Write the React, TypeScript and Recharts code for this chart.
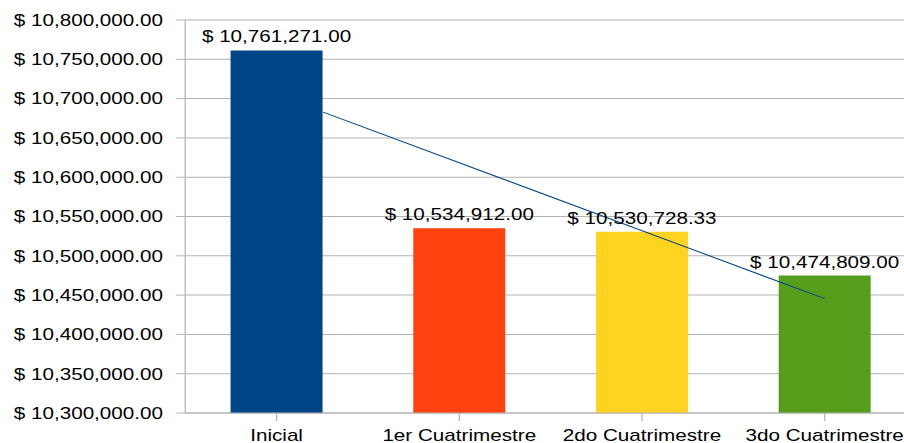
import React from 'react';
import {
  ComposedChart,
  Bar,
  Line,
  XAxis,
  YAxis,
  CartesianGrid,
  Cell,
  LabelList,
} from 'recharts';

const categories = ['Inicial', '1er Cuatrimestre', '2do Cuatrimestre', '3do Cuatrimestre'];
const montos = [10761271.0, 10534912.0, 10530728.33, 10474809.0];
const colores = ['#004586', '#ff420e', '#ffd320', '#579d1c'];
const yTicks = [
  10300000, 10350000, 10400000, 10450000, 10500000, 10550000, 10600000, 10650000, 10700000,
  10750000, 10800000,
];
// linea de tendencia
const trendX = [0.255, 3];
const trendY = [10682800, 10445500];

const data = categories.map((c, i) => ({ categoria: c, monto: montos[i] }));
const trendData = trendX.map((t, i) => ({ t, v: trendY[i] }));

const FONT = '"Liberation Sans", Arial, sans-serif';
const SX = 1.26; // el original esta estirado en horizontal

const money = (v: number) =>
  '$ ' + v.toLocaleString('en-US', { minimumFractionDigits: 2, maximumFractionDigits: 2 });

const BarLabel = (props: any) => {
  const { x, y, width, value } = props;
  return (
    <text
      x={Number(x) + Number(width) / 2}
      y={Number(y) - 8}
      textAnchor="middle"
      fontSize={16.4}
      fontFamily={FONT}
      fill="#000"
    >
      {money(Number(value))}
    </text>
  );
};

export default function App() {
  return (
    <div style={{ position: 'absolute', left: 0, top: 0, width: 904, height: 443, overflow: 'hidden', background: '#fff' }}>
      <div style={{ transform: `scaleX(${SX})`, transformOrigin: '0 0', width: 732 }}>
        <ComposedChart
          width={732}
          height={443}
          data={data}
          margin={{ top: 20, right: 5, left: 0, bottom: 0 }}
          style={{ fontFamily: FONT }}
        >
          <CartesianGrid vertical={false} stroke="#b3b3b3" />
          <XAxis
            dataKey="categoria"
            height={30}
            interval={0}
            stroke="#b3b3b3"
            tickSize={8}
            tickMargin={8}
            tick={{ fontSize: 16.4, fill: '#000', fontFamily: FONT }}
          />
          <XAxis xAxisId="trend" dataKey="t" type="number" domain={[-0.5, 3.5]} allowDataOverflow hide />
          <YAxis
            width={147}
            domain={[10300000, 10800000]}
            ticks={yTicks}
            allowDataOverflow
            interval={0}
            stroke="#b3b3b3"
            tickSize={7.1}
            tickMargin={10.5}
            tickFormatter={money}
            tick={{ fontSize: 16.4, fill: '#000', fontFamily: FONT }}
          />
          <Bar dataKey="monto" barSize={73} isAnimationActive={false}>
            {data.map((d, i) => (
              <Cell key={d.categoria} fill={colores[i]} />
            ))}
            <LabelList dataKey="monto" content={BarLabel} />
          </Bar>
          <Line
            xAxisId="trend"
            data={trendData}
            dataKey="v"
            stroke="#004586"
            strokeWidth={1}
            dot={false}
            activeDot={false}
            isAnimationActive={false}
          />
        </ComposedChart>
      </div>
    </div>
  );
}
